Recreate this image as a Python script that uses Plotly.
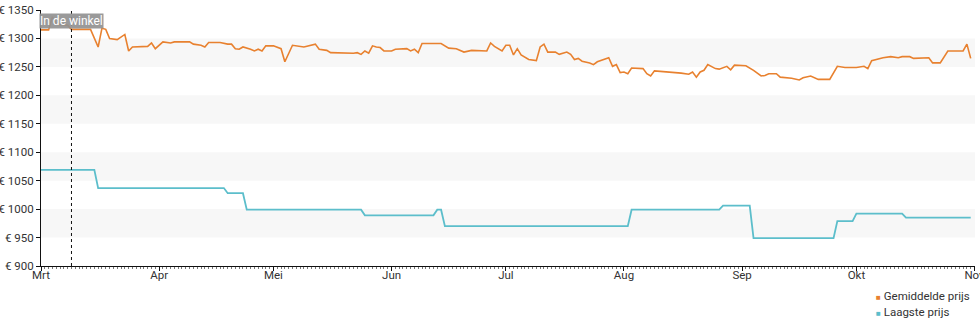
import plotly.graph_objects as go

# Average price per day (sampled where the curve changes direction)
avg_dates = [
    "2024-03-01", "2024-03-03", "2024-03-04", "2024-03-05", "2024-03-08", "2024-03-09",
    "2024-03-14", "2024-03-16", "2024-03-17", "2024-03-18", "2024-03-19", "2024-03-21",
    "2024-03-23", "2024-03-24", "2024-03-25", "2024-03-29", "2024-03-30", "2024-03-31",
    "2024-04-02", "2024-04-04", "2024-04-05", "2024-04-09", "2024-04-10", "2024-04-12",
    "2024-04-13", "2024-04-14", "2024-04-17", "2024-04-19", "2024-04-20", "2024-04-21",
    "2024-04-22", "2024-04-23", "2024-04-25", "2024-04-26", "2024-04-27", "2024-04-28",
    "2024-04-29", "2024-05-01", "2024-05-03", "2024-05-04", "2024-05-06", "2024-05-09",
    "2024-05-12", "2024-05-13", "2024-05-15", "2024-05-16", "2024-05-22", "2024-05-23",
    "2024-05-24", "2024-05-25", "2024-05-26", "2024-05-27", "2024-05-28", "2024-05-29",
    "2024-05-30", "2024-06-01", "2024-06-02", "2024-06-05", "2024-06-06", "2024-06-07",
    "2024-06-08", "2024-06-09", "2024-06-14", "2024-06-16", "2024-06-18", "2024-06-20",
    "2024-06-22", "2024-06-24", "2024-06-26", "2024-06-27", "2024-06-28", "2024-06-30",
    "2024-07-01", "2024-07-02", "2024-07-03", "2024-07-04", "2024-07-05", "2024-07-07",
    "2024-07-09", "2024-07-10", "2024-07-11", "2024-07-12", "2024-07-14", "2024-07-15",
    "2024-07-17", "2024-07-18", "2024-07-19", "2024-07-20", "2024-07-21", "2024-07-23",
    "2024-07-24", "2024-07-25", "2024-07-28", "2024-07-29", "2024-07-30", "2024-07-31",
    "2024-08-01", "2024-08-02", "2024-08-03", "2024-08-06", "2024-08-07", "2024-08-08",
    "2024-08-09", "2024-08-16", "2024-08-18", "2024-08-19", "2024-08-20", "2024-08-21",
    "2024-08-22", "2024-08-23", "2024-08-25", "2024-08-26", "2024-08-28", "2024-08-29",
    "2024-08-30", "2024-09-02", "2024-09-04", "2024-09-06", "2024-09-07", "2024-09-08",
    "2024-09-10", "2024-09-11", "2024-09-14", "2024-09-16", "2024-09-17", "2024-09-19",
    "2024-09-21", "2024-09-24", "2024-09-26", "2024-09-28", "2024-10-01", "2024-10-03",
    "2024-10-04", "2024-10-05", "2024-10-06", "2024-10-08", "2024-10-10", "2024-10-12",
    "2024-10-13", "2024-10-15", "2024-10-16", "2024-10-20", "2024-10-21", "2024-10-23",
    "2024-10-25", "2024-10-29", "2024-10-30", "2024-10-31",
]
avg_prices = [
    1315, 1315, 1338, 1325, 1323, 1316,
    1316, 1285, 1318, 1316, 1300, 1298,
    1307, 1278, 1285, 1286, 1292, 1282,
    1294, 1292, 1294, 1294, 1290, 1288,
    1285, 1293, 1293, 1290, 1290, 1282,
    1281, 1285, 1281, 1278, 1281, 1278,
    1287, 1287, 1282, 1259, 1288, 1285,
    1290, 1281, 1279, 1275, 1274, 1275,
    1272, 1278, 1274, 1287, 1285, 1284,
    1278, 1278, 1281, 1282, 1278, 1281,
    1275, 1291, 1291, 1283, 1282, 1276,
    1279, 1278, 1278, 1292, 1286, 1278,
    1288, 1288, 1271, 1282, 1271, 1263,
    1261, 1285, 1290, 1276, 1276, 1272,
    1276, 1272, 1263, 1265, 1260, 1257,
    1254, 1259, 1266, 1251, 1254, 1240,
    1241, 1238, 1248, 1247, 1238, 1234,
    1243, 1239, 1237, 1241, 1232, 1241,
    1244, 1254, 1247, 1246, 1251, 1245,
    1253, 1252, 1244, 1234, 1235, 1238,
    1238, 1232, 1230, 1227, 1231, 1234,
    1228, 1228, 1251, 1249, 1249, 1251,
    1247, 1261, 1263, 1266, 1268, 1266,
    1268, 1268, 1265, 1266, 1257, 1257,
    1278, 1278, 1290, 1265,
]

# Lowest price (step changes)
low_dates = [
    "2024-03-01", "2024-03-15", "2024-03-16", "2024-04-18", "2024-04-19", "2024-04-23",
    "2024-04-24", "2024-05-24", "2024-05-25", "2024-06-12", "2024-06-13", "2024-06-14",
    "2024-06-15", "2024-08-02", "2024-08-03", "2024-08-26", "2024-08-27", "2024-09-03",
    "2024-09-04", "2024-09-25", "2024-09-26", "2024-09-30", "2024-10-01", "2024-10-13",
    "2024-10-14", "2024-10-31",
]
low_prices = [
    1069, 1069, 1037, 1037, 1028, 1028,
    999, 999, 989, 989, 999, 999,
    970, 970, 999, 999, 1006, 1006,
    949, 949, 979, 979, 992, 992,
    985, 985,
]

store_date = "2024-03-09"
store_label = "In de winkel"
month_ticks = ["2024-03-01", "2024-04-01", "2024-05-01", "2024-06-01", "2024-07-01",
               "2024-08-01", "2024-09-01", "2024-10-01", "2024-11-01"]
month_labels = ["Mrt", "Apr", "Mei", "Jun", "Jul", "Aug", "Sep", "Okt", "Nov"]
y_ticks = [900, 950, 1000, 1050, 1100, 1150, 1200, 1250, 1300, 1350]
y_labels = ["€ " + str(v) for v in y_ticks]
series_names = ["Gemiddelde prijs", "Laagste prijs"]

ORANGE = "#e8812f"
TEAL = "#5cbecb"
FONT = "Roboto"
series_colors = [ORANGE, TEAL]

fig = go.Figure()

fig.add_trace(go.Scatter(x=avg_dates, y=avg_prices, mode="lines",
                         line=dict(color=ORANGE, width=1.6), showlegend=False,
                         name=series_names[0]))
fig.add_trace(go.Scatter(x=low_dates, y=low_prices, mode="lines",
                         line=dict(color=TEAL, width=1.8), showlegend=False,
                         name=series_names[1]))

# Alternating horizontal bands
shapes = []
for lo, hi in zip(y_ticks[1::2], y_ticks[2::2]):
    shapes.append(dict(type="rect", xref="paper", yref="y", x0=0, x1=1, y0=lo, y1=hi,
                       fillcolor="#f7f7f7", line=dict(width=0), layer="below"))
# In-store marker line
shapes.append(dict(type="line", xref="x", yref="paper", x0=store_date, x1=store_date,
                   y0=0, y1=1, line=dict(color="#111", width=1, dash="dot")))

annotations = [dict(x=store_date, y=1330, xref="x", yref="y", text=store_label,
                    showarrow=False, font=dict(family=FONT, size=12, color="white"),
                    bgcolor="rgba(145,145,145,0.92)", borderpad=0)]

# Compact legend: coloured square swatch followed by the series name
for i, (name, col) in enumerate(zip(series_names, series_colors)):
    annotations.append(dict(
        xref="paper", yref="paper", x=0.892, y=-0.117 - i * 0.0615,
        xanchor="left", yanchor="middle", showarrow=False,
        text=f'<span style="color:{col};font-size:8px">■</span> {name}',
        font=dict(family=FONT, size=11.5, color="#333")))

fig.update_layout(
    width=980, height=325,
    margin=dict(l=41, r=5, t=10, b=59),
    paper_bgcolor="white", plot_bgcolor="white",
    font=dict(family=FONT, size=12, color="#333"),
    shapes=shapes,
    annotations=annotations,
    showlegend=False,
    xaxis=dict(type="date", range=["2024-03-01", "2024-11-01 03:00"],
               tickvals=month_ticks, ticktext=month_labels,
               showgrid=False, zeroline=False,
               showline=True, linecolor="#111", linewidth=1,
               ticks="outside", ticklen=4, tickcolor="#111",
               ticklabelstandoff=-6, ticklabeloverflow="allow",
               automargin=False,
               minor=dict(dtick=86400000, ticks="outside", ticklen=2,
                          tickcolor="#777", showgrid=False),
               tickfont=dict(family=FONT, size=11.5, color="#333")),
    yaxis=dict(range=[900, 1350], tickvals=y_ticks, ticktext=y_labels,
               showgrid=False, zeroline=False,
               showline=True, linecolor="#111", linewidth=1,
               ticks="outside", ticklen=4, tickcolor="#111",
               automargin=False,
               tickfont=dict(family=FONT, size=11.5, color="#333")),
)

fig.write_html("out.html")
